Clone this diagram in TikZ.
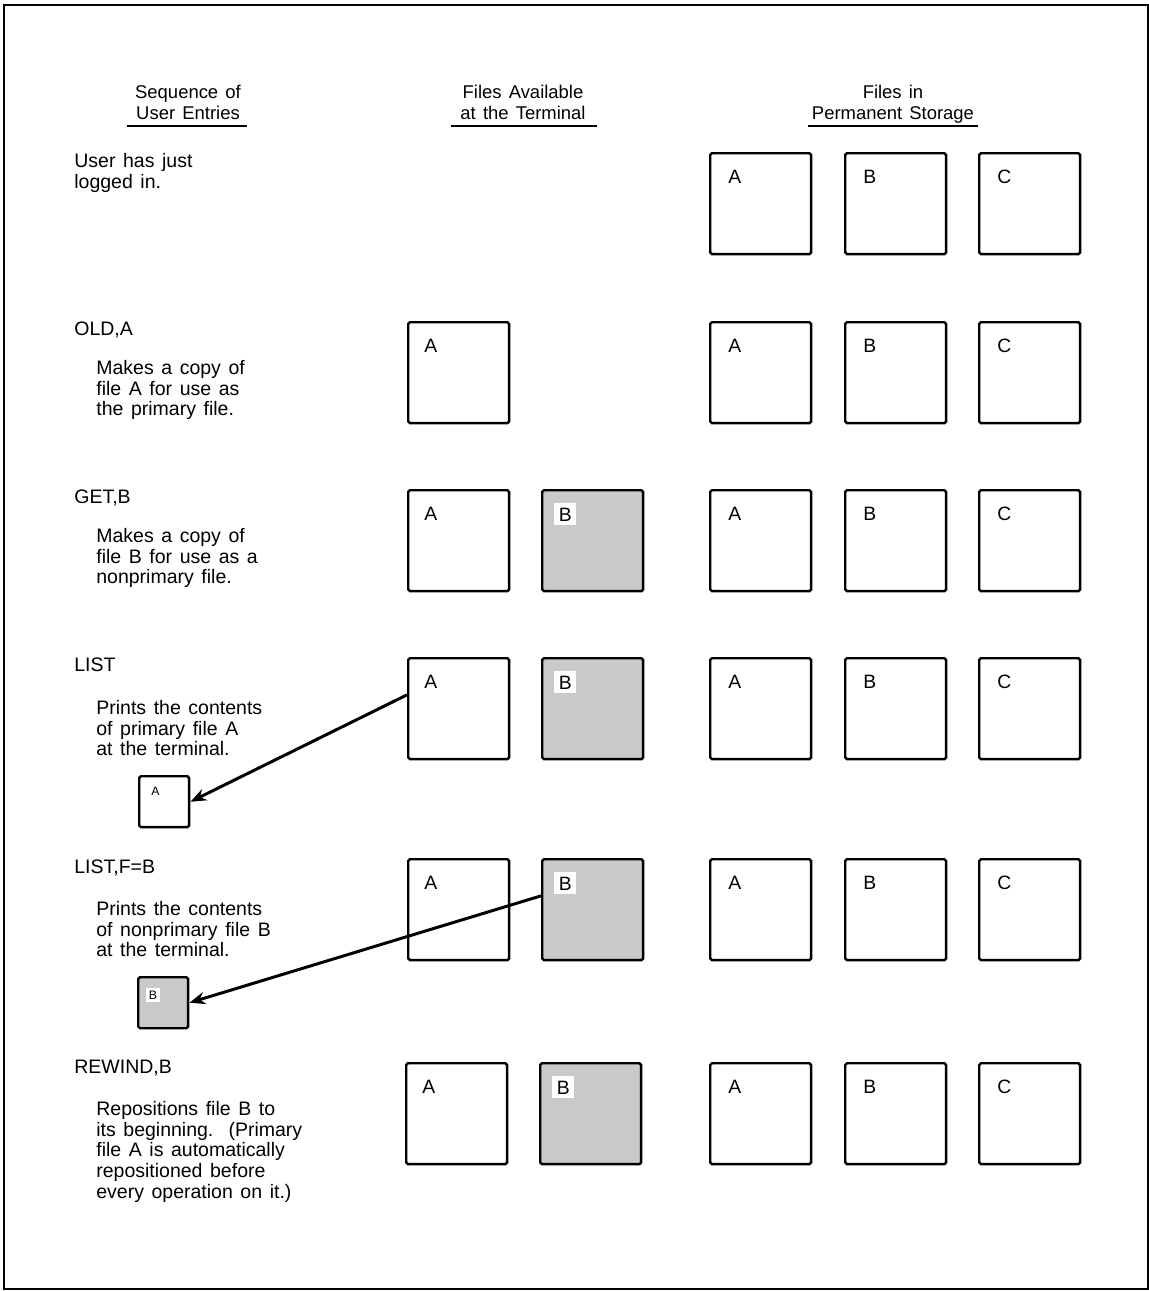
\documentclass[tikz,border=0pt]{standalone}
\usepackage{fontspec}
\setmainfont{Liberation Sans}[WordSpace=1.4]
\usetikzlibrary{arrows.meta}

\tikzset{
  filebox/.style={draw, line width=1.4pt, rounded corners=1pt, inner sep=0pt,
    minimum size=2.02cm, anchor=north west},
  nonprim/.style={filebox, fill=black!21},
  tinybox/.style={draw, line width=1.4pt, rounded corners=1pt, inner sep=0pt,
    minimum width=1cm, minimum height=1.02cm, anchor=north west},
  filename/.style={anchor=base west, inner sep=0pt, font=\fontsize{11}{12}\selectfont},
  tinyname/.style={anchor=base west, inner sep=0pt, font=\fontsize{7}{8}\selectfont},
  entry/.style={anchor=north west, align=left, inner sep=0pt,
    font=\fontsize{11.1}{11.8}\selectfont},
  heading/.style={anchor=north, align=center, inner sep=0pt,
    font=\fontsize{10.5}{11.8}\selectfont},
  listarrow/.style={line width=1.7pt, -{Stealth[length=9pt, width=7pt]}}
}

\begin{document}
\begin{tikzpicture}[x=0.02cm, y=-0.02cm]
  \useasboundingbox (0,0) rectangle (1149,1291);
  % frame
  \draw[line width=0.8pt] (4,5) rectangle (1148,1289);
  % column headings
  \node[heading] (hseq) at (188,85) {Sequence of\\User Entries};
  \node[heading] (hterm) at (523,85) {Files Available\\at the Terminal};
  \node[heading] (hperm) at (893,85) {Files in\\Permanent Storage};
  \draw[line width=1pt] (127,126) -- (247,126);
  \draw[line width=1pt] (451,126) -- (597,126);
  \draw[line width=1pt] (808,126) -- (978,126);
  % user entries
  \node[entry] (e1) at (74,153) {User has just\\logged in.};
  \node[entry] (e2) at (74,322) {OLD,A};
  \node[entry] (d2) at (96,360) {Makes a copy of\\file A for use as\\the primary file.};
  \node[entry] (e3) at (74,490) {GET,B};
  \node[entry] (d3) at (96,528) {Makes a copy of\\file B for use as a\\nonprimary file.};
  \node[entry] (e4) at (74,658) {LIST};
  \node[entry] (d4) at (96,700) {Prints the contents\\of primary file A\\at the terminal.};
  \node[entry] (e5) at (74,860) {LIST,F=B};
  \node[entry] (d5) at (96,901) {Prints the contents\\of nonprimary file B\\at the terminal.};
  \node[entry] (e6) at (74,1060) {REWIND,B};
  \node[entry] (d6) at (96,1101) {Repositions file B to\\its beginning.\ \ (Primary\\file A is automatically\\repositioned before\\every operation on it.)};
  % files in permanent storage
  \foreach \row/\y in {1/152,2/321,3/489,4/657,5/858,6/1062}{
    \foreach \f/\x in {A/709,B/844,C/978}{
      \node[filebox] (s\row\f) at (\x,\y) {};
      \node[filename] at ([shift={(19,31)}]s\row\f.north west) {\f};
    }
  }
  % files available at the terminal
  \node[filebox] (t2A) at (407,321) {};
  \node[filename] at ([shift={(17,31)}]t2A.north west) {A};
  \foreach \row/\y in {3/489,4/657,5/858}{
    \node[filebox] (t\row A) at (407,\y) {};
    \node[filename] at ([shift={(17,31)}]t\row A.north west) {A};
    \node[nonprim] (t\row B) at (541,\y) {};
    \node[filename, fill=white, inner sep=2.5pt] at ([shift={(13,32)}]t\row B.north west) {B};
  }
  \node[filebox] (t6A) at (405,1062) {};
  \node[filename] at ([shift={(17,31)}]t6A.north west) {A};
  \node[nonprim] (t6B) at (539,1062) {};
  \node[filename, fill=white, inner sep=2.5pt] at ([shift={(13,32)}]t6B.north west) {B};
  % printed copies
  \node[tinybox] (pA) at (138,775) {};
  \node[tinyname] at ([shift={(13,20)}]pA.north west) {A};
  \node[tinybox, fill=black!21] (pB) at (137,976) {};
  \node[tinyname, fill=white, inner sep=1.5pt] at ([shift={(9,23)}]pB.north west) {B};
  \draw[listarrow] (t4A.165) -- (pA.east);
  \draw[listarrow] (t5B.165) -- (pB.east);
\end{tikzpicture}
\end{document}
